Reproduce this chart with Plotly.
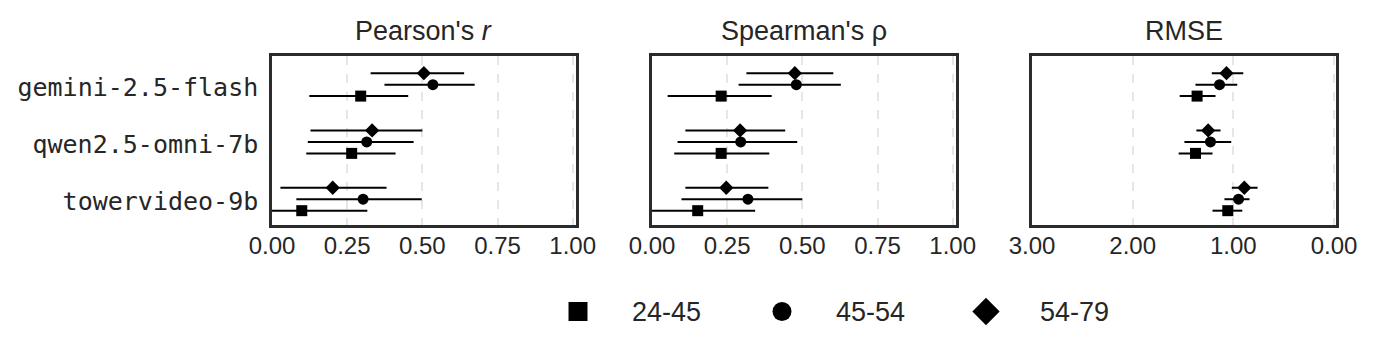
"""Age-group breakdown of Pearson / Spearman / RMSE per model (forest-style dot plot)."""

import plotly.graph_objects as go

# ---- data -------------------------------------------------------------------
MODELS = ["gemini-2.5-flash", "qwen2.5-omni-7b", "towervideo-9b"]
GROUPS = ["24-45", "45-54", "54-79"]
SYMBOLS = ["square", "circle", "diamond"]
OFFSETS = [0.2, 0.0, -0.2]  # vertical shift of each age group inside a model row

# one list per age group, values in MODELS order
PEARSON_MEAN = [[0.295, 0.265, 0.099], [0.535, 0.315, 0.303], [0.505, 0.333, 0.202]]
PEARSON_LO = [[0.124, 0.114, -0.12], [0.374, 0.119, 0.081], [0.328, 0.128, 0.028]]
PEARSON_HI = [[0.453, 0.411, 0.317], [0.674, 0.471, 0.498], [0.639, 0.500, 0.381]]

SPEARMAN_MEAN = [[0.230, 0.230, 0.152], [0.480, 0.295, 0.319], [0.475, 0.293, 0.247]]
SPEARMAN_LO = [[0.052, 0.074, -0.04], [0.288, 0.085, 0.098], [0.314, 0.111, 0.111]]
SPEARMAN_HI = [[0.398, 0.390, 0.343], [0.628, 0.483, 0.500], [0.603, 0.443, 0.387]]

RMSE_MEAN = [[1.360, 1.376, 1.055], [1.137, 1.227, 0.948], [1.068, 1.250, 0.891]]
RMSE_LO = [[1.177, 1.207, 0.911], [0.961, 1.021, 0.839], [0.901, 1.127, 0.759]]
RMSE_HI = [[1.533, 1.543, 1.207], [1.376, 1.486, 1.088], [1.214, 1.367, 1.015]]

PANEL_TITLES = ["Pearson's <i>r</i>", "Spearman's ρ", "RMSE"]
X_TICKS = [[0, 0.25, 0.5, 0.75, 1.0], [0, 0.25, 0.5, 0.75, 1.0], [3, 2, 1, 0]]

# ---- styling ----------------------------------------------------------------
W, H = 1380, 356
SANS = "Liberation Sans, Arial, sans-serif"
MONO = "DejaVu Sans Mono, monospace"
INK = "#262626"
FRAME = "#2b2b2b"
GRID = "#e6e6e6"


def px_x(p):
    return p / W


def px_y(p):
    return 1 - p / H


x_domains = [
    [px_x(272), px_x(576)],
    [px_x(652), px_x(956)],
    [px_x(1032), px_x(1336)],
]
y_domain = [px_y(225), px_y(56)]
x_ranges = [[0, 1.011], [0, 1.011], [3.0, -0.02]]

panels = [
    (PEARSON_MEAN, PEARSON_LO, PEARSON_HI),
    (SPEARMAN_MEAN, SPEARMAN_LO, SPEARMAN_HI),
    (RMSE_MEAN, RMSE_LO, RMSE_HI),
]

fig = go.Figure()

for p, (means, los, his) in enumerate(panels):
    xa = "x" if p == 0 else f"x{p + 1}"
    ya = "y" if p == 0 else f"y{p + 1}"
    for g, group in enumerate(GROUPS):
        m = means[g]
        fig.add_trace(go.Scatter(
            x=m,
            y=[i + OFFSETS[g] for i in range(len(MODELS))],
            mode="markers",
            marker=dict(symbol=SYMBOLS[g], size=11, color="black", line=dict(width=0)),
            error_x=dict(
                type="data",
                symmetric=False,
                array=[h - v for h, v in zip(his[g], m)],
                arrayminus=[v - lo for v, lo in zip(m, los[g])],
                color="black", thickness=2, width=0,
            ),
            xaxis=xa, yaxis=ya,
            name=group, showlegend=False, cliponaxis=True,
        ))

# hand-built legend on its own hidden axes (plotly caps legend symbol size)
for g, group in enumerate(GROUPS):
    fig.add_trace(go.Scatter(
        x=[g], y=[0], mode="markers",
        marker=dict(symbol=SYMBOLS[g], size=19 if SYMBOLS[g] != "diamond" else 21, color="black"),
        xaxis="x4", yaxis="y4", showlegend=False, hoverinfo="skip",
    ))
    fig.add_annotation(
        x=g + 0.255, y=0, xref="x4", yref="y4", text=group, showarrow=False,
        xanchor="left", yanchor="middle", font=dict(family=SANS, size=27, color=INK),
    )

layout = dict(
    width=W, height=H,
    margin=dict(l=0, r=0, t=0, b=0, autoexpand=False),
    paper_bgcolor="white", plot_bgcolor="white",
    showlegend=False,
    xaxis4=dict(domain=[px_x(578 - 204), px_x(986 + 204)], range=[-1, 3], visible=False,
                anchor="y4", automargin=False),
    yaxis4=dict(domain=[0, 0.25], range=[-1, 1], visible=False, anchor="x4", automargin=False),
)

for p in range(3):
    sfx = "" if p == 0 else str(p + 1)
    layout[f"xaxis{sfx}"] = dict(
        domain=x_domains[p], range=x_ranges[p], anchor=f"y{sfx}",
        tickvals=X_TICKS[p], tickformat=".2f", automargin=False,
        showgrid=True, gridcolor=GRID, griddash="dash", gridwidth=1.5,
        zeroline=False, showline=True, linecolor=FRAME, linewidth=2.5, mirror=True,
        ticks="", ticklabelstandoff=-3, tickfont=dict(family=SANS, size=24, color=INK),
    )
    layout[f"yaxis{sfx}"] = dict(
        domain=y_domain, range=[2.45, -0.5], anchor=f"x{sfx}", automargin=False,
        tickvals=[i + 0.04 for i in range(len(MODELS))], ticktext=MODELS,
        showticklabels=(p == 0), showgrid=False, zeroline=False,
        showline=True, linecolor=FRAME, linewidth=2.5, mirror=True,
        ticks="", ticklabelstandoff=6, tickfont=dict(family=MONO, size=25, color=INK),
    )
    fig.add_annotation(
        x=sum(x_domains[p]) / 2, y=px_y(31), xref="paper", yref="paper",
        text=PANEL_TITLES[p], showarrow=False, xanchor="center", yanchor="middle",
        font=dict(family=SANS, size=27, color=INK),
    )

fig.update_layout(**layout)
# drop the page's default 8px body margin so the figure sits at the window origin
fig.write_html(
    "out.html",
    config={"displayModeBar": False},
    post_script="document.body.style.margin='0';",
)
